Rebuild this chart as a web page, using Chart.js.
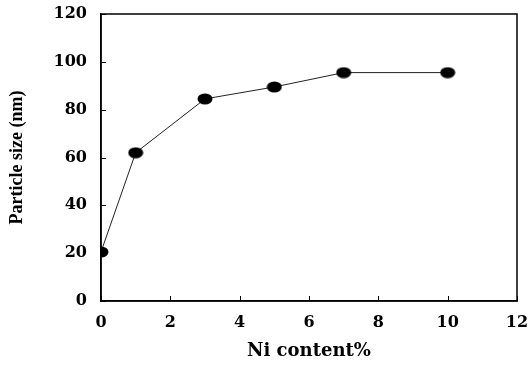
<!DOCTYPE html>
<html>
<head>
<meta charset="utf-8">
<script src="https://cdn.jsdelivr.net/npm/chart.js@4"></script>
<style>
html,body{margin:0;padding:0;background:#fff;}
#wrap{width:529px;height:367px;}
</style>
</head>
<body>
<div id="wrap"><canvas id="c" width="529" height="367"></canvas></div>
<script>
const xValues = [0, 1, 3, 5, 7, 10];
const yValues = [20.5, 62, 84.5, 89.5, 95.5, 95.5];
const xTickValues = [0, 2, 4, 6, 8, 10, 12];
const yTickValues = [0, 20, 40, 60, 80, 100, 120];
const xTitle = 'Ni content%';
const yTitle = 'Particle size (nm)';

// elliptical marker
const marker = document.createElement('canvas');
marker.width = 16; marker.height = 12;
(function(){
  const m = marker.getContext('2d');
  m.fillStyle = '#000';
  m.beginPath();
  m.ellipse(8, 6, 7.5, 5.5, 0, 0, Math.PI * 2);
  m.fill();
})();

const frameTicks = {
  id: 'frameTicks',
  afterDraw(chart) {
    const {ctx, chartArea: a, scales} = chart;
    ctx.save();
    ctx.strokeStyle = '#000';
    ctx.lineWidth = 1.5;
    ctx.strokeRect(a.left, a.top, a.right - a.left, a.bottom - a.top);
    ctx.lineWidth = 1;
    ctx.beginPath();
    xTickValues.forEach(v => {
      const x = Math.round(scales.x.getPixelForValue(v)) + 0.5;
      ctx.moveTo(x, a.bottom); ctx.lineTo(x, a.bottom - 5);
    });
    yTickValues.forEach(v => {
      const y = Math.round(scales.y.getPixelForValue(v)) + 0.5;
      ctx.moveTo(a.left, y); ctx.lineTo(a.left + 5, y);
    });
    ctx.stroke();
    ctx.restore();
  }
};

new Chart(document.getElementById('c'), {
  type: 'line',
  data: {
    datasets: [{
      data: xValues.map((x, i) => ({x: x, y: yValues[i]})),
      borderColor: '#222',
      borderWidth: 1,
      pointStyle: marker,
      pointRadius: 6,
      tension: 0,
      fill: false
    }]
  },
  options: {
    responsive: false,
    animation: false,
    layout: {padding: {top: 14, right: 12, left: 0, bottom: 0}},
    plugins: {legend: {display: false}, tooltip: {enabled: false}},
    scales: {
      x: {
        type: 'linear', min: 0, max: 12,
        afterBuildTicks: s => { s.ticks = xTickValues.map(v => ({value: v})); },
        afterFit: s => { s.height = 66; s.paddingLeft = 0; s.paddingRight = 0; },
        grid: {display: false, drawTicks: false, tickLength: 0},
        border: {display: true, color: '#000', width: 1.5},
        ticks: {color: '#000', padding: 12, maxRotation: 0,
          font: {family: 'DejaVu Serif', weight: 'bold', size: 16}},
        title: {display: true, text: xTitle, color: '#000', padding: {top: 4, bottom: 5},
          font: {family: 'DejaVu Serif', weight: 'bold', size: 18}}
      },
      y: {
        type: 'linear', min: 0, max: 120,
        afterBuildTicks: s => { s.ticks = yTickValues.map(v => ({value: v})); },
        afterFit: s => { s.width = 101; s.paddingTop = 0; s.paddingBottom = 0; },
        grid: {display: false, drawTicks: false, tickLength: 0},
        border: {display: true, color: '#000', width: 1.5},
        ticks: {color: '#000', padding: 14,
          font: {family: 'DejaVu Serif', weight: 'bold', size: 16}},
        title: {display: true, text: yTitle, color: '#000', padding: {top: 7, bottom: 0},
          font: {family: 'Liberation Serif', weight: 'bold', size: 18}}
      }
    }
  },
  plugins: [frameTicks]
});
</script>
</body>
</html>
